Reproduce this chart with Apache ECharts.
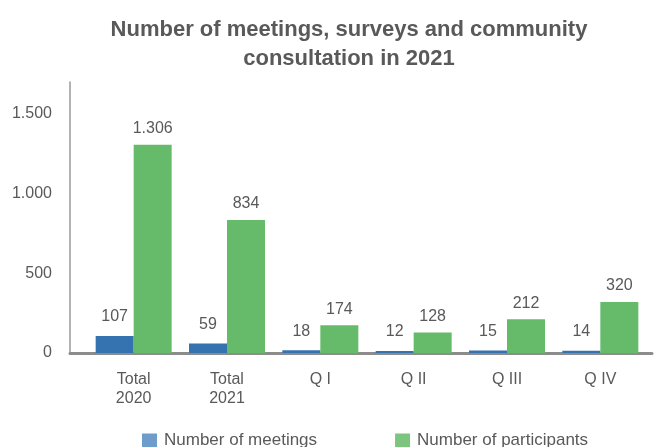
<!DOCTYPE html>
<html>
<head>
<meta charset="utf-8">
<script src="https://cdn.jsdelivr.net/npm/echarts@6/dist/echarts.min.js"></script>
<style>
  html, body { margin: 0; padding: 0; background: #fff; }
  #chart { width: 658px; height: 447px; }
</style>
</head>
<body>
<div id="chart"></div>
<script>
// Categories along the x axis
const categories = ['Total\n2020', 'Total\n2021', 'Q I', 'Q II', 'Q III', 'Q IV'];
// Number of meetings held in each period
const meetings = [107, 59, 18, 12, 15, 14];
// Number of participants in each period
const participants = [1306, 834, 174, 128, 212, 320];
// Y axis ticks
const yTicks = [0, 500, 1000, 1500];

const textColor = '#595959';
const fontFamily = '"Liberation Sans", Arial, sans-serif';
const yMax = 1700;

// Dot as thousands separator
function fmt(v) {
  return String(v).replace(/\B(?=(\d{3})+(?!\d))/g, '.');
}

const chart = echarts.init(document.getElementById('chart'), null, { renderer: 'canvas' });

const barLabel = (dist) => ({
  show: true,
  position: 'top',
  distance: dist,
  fontFamily: fontFamily,
  fontSize: 16,
  color: textColor,
  formatter: function (p) { return fmt(p.value); }
});

chart.setOption({
  animation: false,
  backgroundColor: '#ffffff',
  textStyle: { fontFamily: fontFamily },
  title: {
    text: 'Number of meetings, surveys and community\nconsultation in 2021',
    left: 344,
    top: 10,
    textAlign: 'center',
    textStyle: {
      fontFamily: fontFamily,
      fontSize: 22,
      fontWeight: 'bold',
      color: textColor,
      lineHeight: 29
    }
  },
  legend: {
    top: 427,
    left: 137,
    itemWidth: 15,
    itemHeight: 14,
    itemGap: 78,
    icon: 'rect',
    textStyle: { fontFamily: fontFamily, fontSize: 17, color: textColor, padding: [0, 0, 0, 2] },
    data: [
      { name: 'Number of meetings', itemStyle: { color: '#6e9ccb' } },
      { name: 'Number of participants', itemStyle: { color: '#7cc480' } }
    ]
  },
  grid: [
    // frame holding the axis lines and value labels
    { left: 70, right: 6, top: 82, bottom: 94, containLabel: false },
    // plotting area for the bars
    { left: 87, right: 11, top: 82, bottom: 94, containLabel: false }
  ],
  xAxis: [
    {
      gridIndex: 0,
      type: 'category',
      data: categories,
      axisTick: { show: false },
      axisLabel: { show: false },
      axisLine: { lineStyle: { color: '#8c8c8c', width: 3 } },
      z: 0
    },
    {
      gridIndex: 1,
      type: 'category',
      data: categories,
      axisTick: { show: false },
      axisLine: { show: false },
      axisLabel: {
        fontFamily: fontFamily,
        fontSize: 16,
        color: textColor,
        lineHeight: 19,
        margin: 17
      }
    }
  ],
  yAxis: [
    {
      gridIndex: 0,
      type: 'value',
      min: 0,
      max: yMax,
      interval: 500,
      splitLine: { show: false },
      axisTick: { show: false },
      axisLine: { show: true, lineStyle: { color: '#9a9a9a', width: 1.5 } },
      axisLabel: {
        fontFamily: fontFamily,
        fontSize: 16,
        color: textColor,
        margin: 18,
        showMaxLabel: false,
        formatter: function (v) { return yTicks.indexOf(v) >= 0 ? fmt(v) : ''; }
      }
    },
    {
      gridIndex: 1,
      type: 'value',
      min: 0,
      max: yMax,
      show: false
    }
  ],
  series: [
    {
      name: 'Number of meetings',
      type: 'bar',
      xAxisIndex: 1,
      yAxisIndex: 1,
      data: meetings,
      barWidth: 38,
      barGap: '0%',
      z: 3,
      itemStyle: { color: '#3472b0' },
      label: barLabel(11)
    },
    {
      name: 'Number of participants',
      type: 'bar',
      xAxisIndex: 1,
      yAxisIndex: 1,
      data: participants,
      barWidth: 38,
      z: 3,
      itemStyle: { color: '#66bb6a' },
      label: barLabel(8)
    }
  ]
});
</script>
</body>
</html>
